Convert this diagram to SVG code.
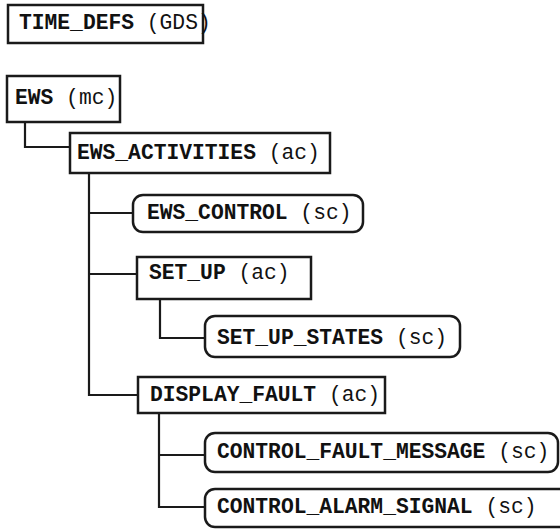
<svg xmlns="http://www.w3.org/2000/svg" width="560" height="532" viewBox="0 0 560 532">
  <style>
    .box { fill: #ffffff; stroke: #1a1a1a; stroke-width: 2.5; }
    .conn { fill: none; stroke: #1a1a1a; stroke-width: 2.2; }
    .lbl { font-family: "Liberation Mono", "Courier New", monospace; font-size: 21.3px; fill: #111111; }
    .name { font-weight: bold; }
  </style>
  <rect width="560" height="532" fill="#ffffff"/>

  <!-- hierarchy connectors -->
  <g id="connectors">
    <path class="conn" d="M25,122 V147 H70"/>
    <path class="conn" d="M89,173 V395 H138"/>
    <path class="conn" d="M89,213 H133"/>
    <path class="conn" d="M89,274 H137"/>
    <path class="conn" d="M160,299 V338 H205"/>
    <path class="conn" d="M159,413 V507 H205"/>
    <path class="conn" d="M159,455 H205"/>
  </g>

  <g id="time_defs">
    <rect class="box" x="8" y="5" width="195" height="38"/>
    <text class="lbl" x="19" y="29"><tspan class="name">TIME_DEFS</tspan> (GDS)</text>
  </g>

  <g id="ews">
    <rect class="box" x="7" y="76" width="113" height="46"/>
    <text class="lbl" x="15" y="104"><tspan class="name">EWS</tspan> (mc)</text>
  </g>

  <g id="ews_activities">
    <rect class="box" x="70" y="133" width="260" height="40"/>
    <text class="lbl" x="77" y="159"><tspan class="name">EWS_ACTIVITIES</tspan> (ac)</text>
  </g>

  <g id="ews_control">
    <rect class="box" x="133" y="195" width="230" height="37" rx="10"/>
    <text class="lbl" x="147" y="219"><tspan class="name">EWS_CONTROL</tspan> (sc)</text>
  </g>

  <g id="set_up">
    <rect class="box" x="137" y="257" width="174" height="42"/>
    <text class="lbl" x="149" y="279"><tspan class="name">SET_UP</tspan> (ac)</text>
  </g>

  <g id="set_up_states">
    <rect class="box" x="205" y="316" width="255" height="41" rx="10"/>
    <text class="lbl" x="217" y="344"><tspan class="name">SET_UP_STATES</tspan> (sc)</text>
  </g>

  <g id="display_fault">
    <rect class="box" x="138" y="377" width="247" height="36"/>
    <text class="lbl" x="150" y="401"><tspan class="name">DISPLAY_FAULT</tspan> (ac)</text>
  </g>

  <g id="control_fault_message">
    <rect class="box" x="205" y="433" width="353" height="39" rx="10"/>
    <text class="lbl" x="217" y="458"><tspan class="name">CONTROL_FAULT_MESSAGE</tspan> (sc)</text>
  </g>

  <g id="control_alarm_signal">
    <rect class="box" x="205" y="489" width="370" height="38" rx="10"/>
    <text class="lbl" x="217" y="513"><tspan class="name">CONTROL_ALARM_SIGNAL</tspan> (sc)</text>
  </g>
</svg>
